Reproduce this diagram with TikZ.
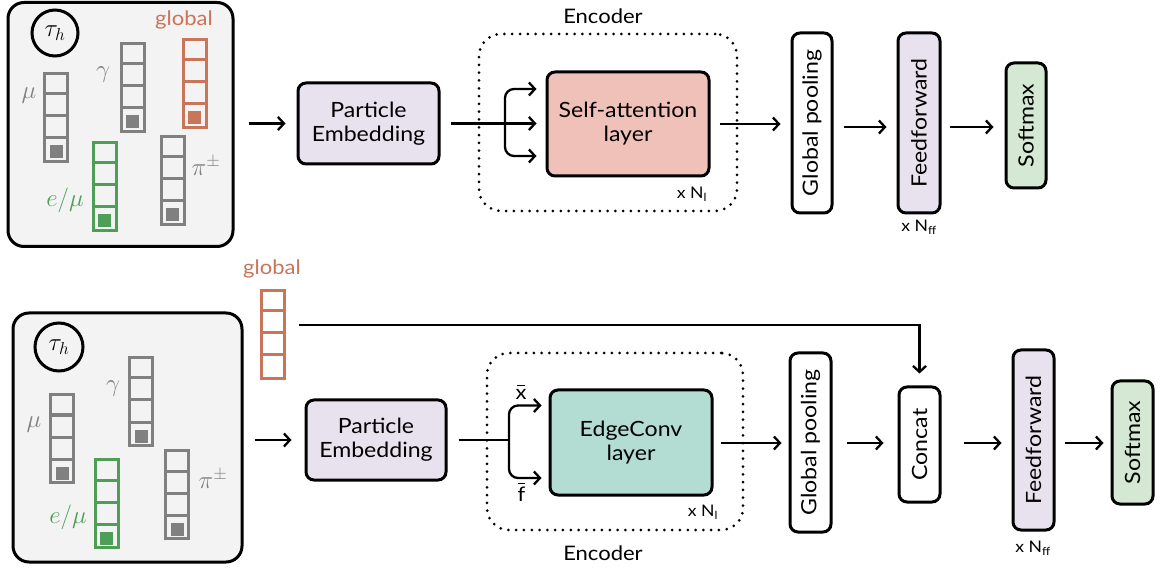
\documentclass[tikz,border=0pt]{standalone}
\usepackage{fontspec}
\setmainfont{Lato}[FakeStretch=1.1]
\usetikzlibrary{arrows.meta,calc}

\definecolor{panelbg}{HTML}{F3F3F3}
\definecolor{featgray}{HTML}{808080}
\definecolor{featgreen}{HTML}{4E9E57}
\definecolor{featorange}{HTML}{C87559}
\definecolor{lavender}{HTML}{E8E2EF}
\definecolor{salmon}{HTML}{EFC1B8}
\definecolor{tealfill}{HTML}{B3DDD3}
\definecolor{mint}{HTML}{D5E8D3}

% one particle feature vector: name, centre x, top y, colour, marked bottom cell (1/0)
\newcommand{\featcol}[5]{%
  \node[draw=#4, line width=3pt, minimum width=23pt, minimum height=88pt,
        inner sep=0pt, anchor=north] (#1) at (#2,#3) {};
  \foreach \k in {1,2,3}
    \draw[#4, line width=3pt] ($(#1.north west)+(0,{22*\k})$) -- ($(#1.north east)+(0,{22*\k})$);
  \ifnum#5=1
    \fill[#4] ($(#1.south)+(-6.5,-17.5)$) rectangle ++(13,13);
  \fi
}

\begin{document}
\begin{tikzpicture}[x=1pt,y=-1pt,
  block/.style={draw, line width=3pt, rounded corners=8pt, align=center,
                inner sep=0pt, font=\fontsize{21}{24}\selectfont},
  vblock/.style={block, rotate=90},
  flow/.style={line width=2.3pt, -{Straight Barb[length=6pt,width=13pt]}},
  plain/.style={line width=2.3pt},
  panel/.style={draw, line width=3pt, fill=panelbg, rounded corners=16pt,
                minimum width=#1, inner sep=0pt},
  encbox/.style={draw, line width=3pt, dash pattern=on 0pt off 7.8pt,
                 line cap=round, rounded corners=22pt, inner sep=0pt},
  lbl/.style={font=\fontsize{20}{24}\selectfont, inner sep=0pt},
  small/.style={font=\fontsize{16}{18}\selectfont, inner sep=0pt},
  mlbl/.style={font=\fontsize{25}{28}\selectfont, inner sep=0pt},
  tau/.style={draw, circle, line width=3pt, inner sep=0pt, font=\fontsize{26}{28}\selectfont},
  meanbar/.style={line width=1.4pt}
]
\useasboundingbox (0,0) rectangle (1160,569);

% ---------------- Transformer pipeline ----------------
\node[panel=225pt, minimum height=244pt] (panel1) at (120.5,124.5) {};
\node[tau, minimum size=46pt] (tau1) at (55,33) {$\tau_h$};
\featcol{mu1}{56}{72}{featgray}{1}
\featcol{ga1}{132.5}{42}{featgray}{1}
\featcol{gl1}{194.5}{38}{featorange}{1}
\featcol{em1}{104.5}{141}{featgreen}{1}
\featcol{pi1}{172.5}{135}{featgray}{1}
\node[mlbl, text=featgray] (mulab1) at (29,96) {$\mu$};
\node[mlbl, text=featgray] (galab1) at (103,75) {$\gamma$};
\node[lbl, text=featorange] (gllab1) at (184,20) {global};
\node[mlbl, text=featgreen] (emlab1) at (65,200) {$e/\mu$};
\node[mlbl, text=featgray] (pilab1) at (206,166) {$\pi^{\pm}$};

\node[encbox, minimum width=258pt, minimum height=177pt] (enc1) at (608,122.5) {};
\node[lbl] (enclab1) at (603,16) {Encoder};
\node[small] (nl1) at (692,194) {x N\textsubscript{l}};

\node[block, fill=lavender, minimum width=141pt, minimum height=81pt] (pe1) at (368.5,123.5) {Particle\\Embedding};
\node[block, fill=salmon, minimum width=162pt, minimum height=104pt] (sa) at (628,124) {Self-attention\\layer};
\node[vblock, fill=white, minimum width=180pt, minimum height=40pt] (gp1) at (812,123) {Global pooling};
\node[vblock, fill=lavender, minimum width=180pt, minimum height=42pt] (ff1) at (919,123) {Feedforward};
\node[small] (nff1) at (919,227) {x N\textsubscript{ff}};
\node[vblock, fill=mint, minimum width=125pt, minimum height=40pt] (sm1) at (1026,125.5) {Softmax};

\draw[flow, shorten <=14pt, shorten >=11pt] (panel1.east |- pe1.west) -- (pe1.west);
\coordinate (br1) at (505,123.5);
\draw[plain, shorten <=10pt] (pe1.east) -- (br1);
\draw[flow, shorten >=9pt] (br1) -- (br1 -| sa.west);
\draw[flow, rounded corners=9pt, shorten >=9pt] (br1) |- ([yshift=35pt]sa.west);
\draw[flow, rounded corners=9pt, shorten >=9pt] (br1) |- ([yshift=-32pt]sa.west);
\draw[flow, shorten <=9pt, shorten >=10pt] (sa.east) -- (sa.east -| gp1.north);
\draw[flow, shorten <=10pt, shorten >=10pt] ([yshift=-4pt]gp1.south) -- ([yshift=-4pt]gp1.south -| ff1.north);
\draw[flow, shorten <=8pt, shorten >=11pt] ([yshift=-4pt]ff1.south) -- ([yshift=-4pt]ff1.south -| sm1.north);

% ---------------- EdgeConv pipeline ----------------
\node[panel=229pt, minimum height=249pt] (panel2) at (127.5,437.5) {};
\node[tau, minimum size=48pt] (tau2) at (59,347) {$\tau_h$};
\featcol{mu2}{62}{393}{featgray}{1}
\featcol{ga2}{141}{356}{featgray}{1}
\featcol{em2}{106.5}{458}{featgreen}{1}
\featcol{pi2}{177}{449}{featgray}{1}
\featcol{gl2}{273}{289}{featorange}{0}
\node[mlbl, text=featgray] (mulab2) at (34,425) {$\mu$};
\node[mlbl, text=featgray] (galab2) at (113,389) {$\gamma$};
\node[lbl, text=featorange] (gllab2) at (272,269) {global};
\node[mlbl, text=featgreen] (emlab2) at (68,517) {$e/\mu$};
\node[mlbl, text=featgray] (pilab2) at (213,479) {$\pi^{\pm}$};

\node[encbox, minimum width=256pt, minimum height=177pt] (enc2) at (615,441.5) {};
\node[lbl] (enclab2) at (603,553) {Encoder};
\node[small] (nl2) at (703,512) {x N\textsubscript{l}};

\node[block, fill=lavender, minimum width=140pt, minimum height=80pt] (pe2) at (376,440) {Particle\\Embedding};
\node[block, fill=tealfill, minimum width=162pt, minimum height=105pt] (ec) at (631,442.5) {EdgeConv\\layer};
\node[vblock, fill=white, minimum width=179pt, minimum height=41pt] (gp2) at (810.5,442.5) {Global pooling};
\node[vblock, fill=white, minimum width=115pt, minimum height=41pt] (cc) at (919.5,444.5) {Concat};
\node[vblock, fill=lavender, minimum width=180pt, minimum height=41pt] (ff2) at (1033.5,440) {Feedforward};
\node[small] (nff2) at (1033,548) {x N\textsubscript{ff}};
\node[vblock, fill=mint, minimum width=123pt, minimum height=41pt] (sm2) at (1132.5,442.5) {Softmax};

\draw[flow, shorten <=11pt, shorten >=13pt] (panel2.east |- pe2.west) -- (pe2.west);
\coordinate (br2) at (509,440);
\draw[plain, shorten <=11pt] (pe2.east) -- (br2);
\draw[flow, rounded corners=9pt, shorten >=7pt] (br2) |- ([yshift=37pt]ec.west);
\draw[flow, rounded corners=9pt, shorten >=7pt] (br2) |- ([yshift=-35.5pt]ec.west);
% mean-feature labels: letter plus a short bar over it
\node[lbl] (xbar) at (521,394) {x};
\draw[meanbar] ([xshift=-4pt,yshift=3.5pt]xbar.north) -- ++(8,0);
\node[lbl] (fbar) at (521.5,494) {f};
\draw[meanbar] ([xshift=-3.5pt,yshift=3pt]fbar.north) -- ++(7,0);
\draw[flow, shorten <=7pt, shorten >=7pt] ([yshift=-0.5pt]ec.east) -- ([yshift=-0.5pt]ec.east -| gp2.north);
\draw[flow, shorten <=14pt, shorten >=14pt] ([yshift=-0.5pt]gp2.south) -- ([yshift=-0.5pt]gp2.south -| cc.north);
\draw[flow, shorten <=22pt, shorten >=10pt] ([yshift=1.5pt]cc.south) -- ([yshift=1.5pt]cc.south -| ff2.north);
\draw[flow, shorten <=9pt, shorten >=7pt] ([yshift=-3pt]ff2.south) -- ([yshift=-3pt]ff2.south -| sm2.north);
\draw[flow, shorten <=13pt, shorten >=12pt] ([yshift=9.5pt]gl2.east) -| (cc.east);
\end{tikzpicture}
\end{document}
